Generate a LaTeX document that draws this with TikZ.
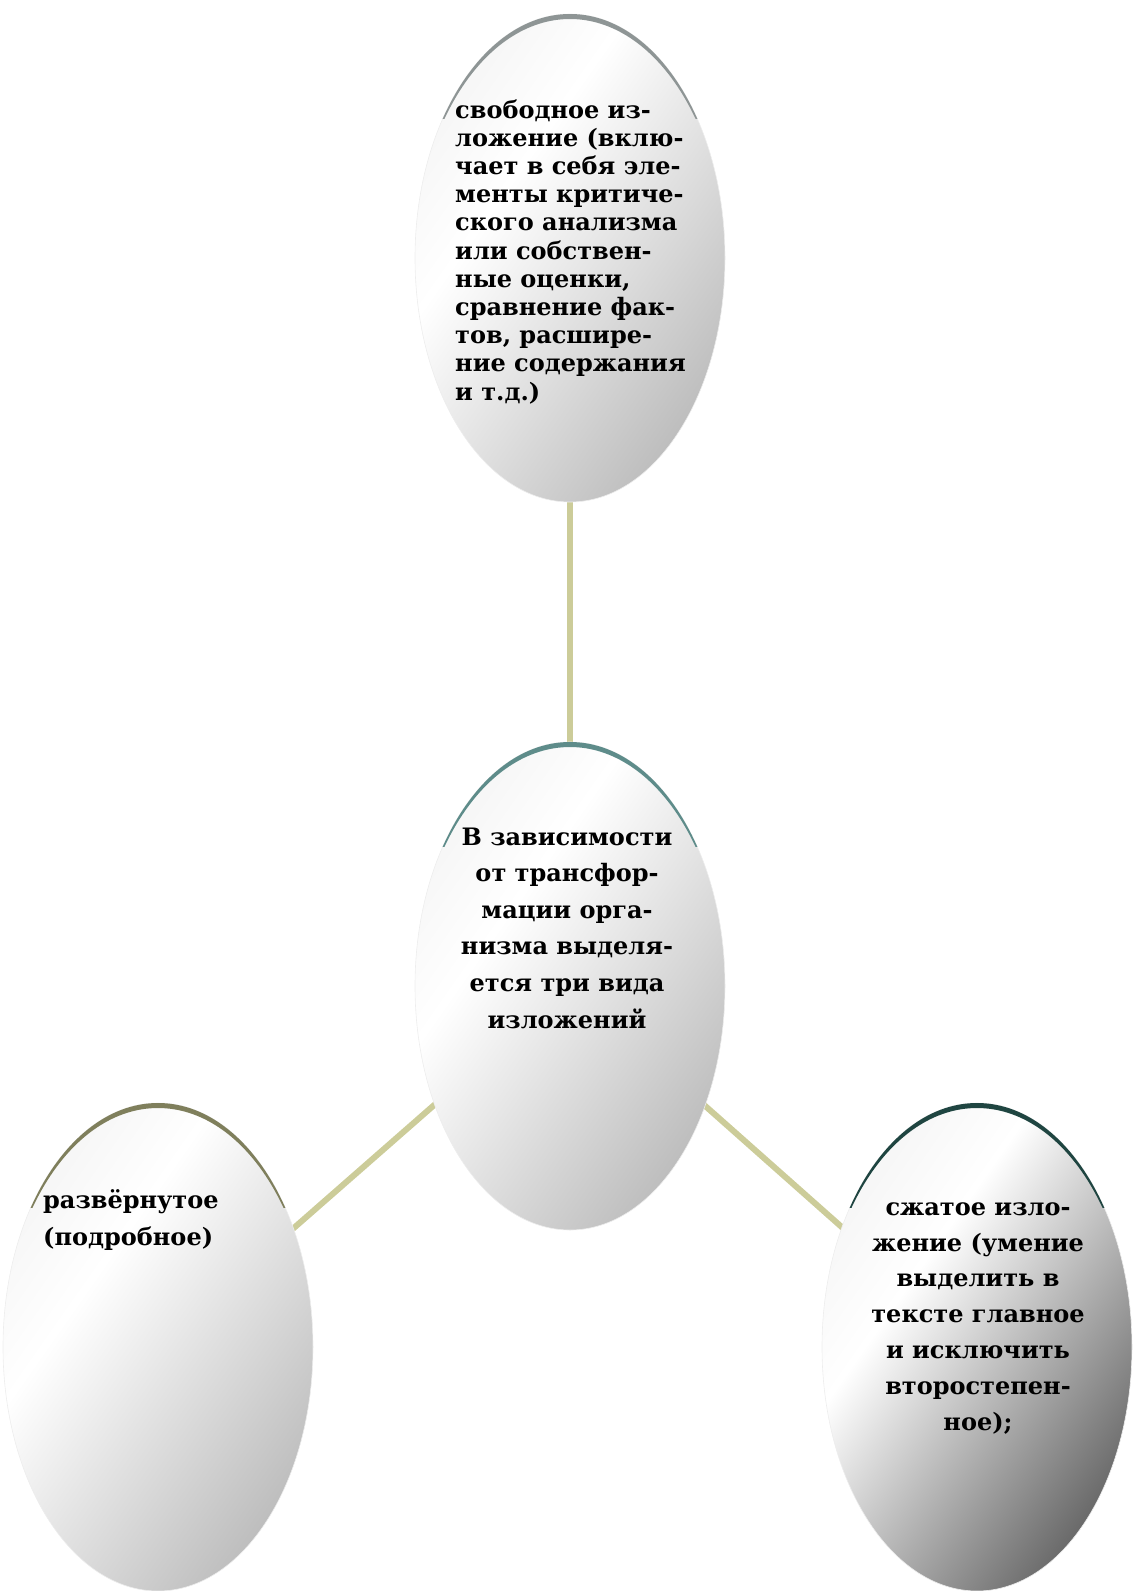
\documentclass[tikz,border=0pt]{standalone}
\usepackage{fontspec}
\setmainfont{DejaVu Serif}
\usetikzlibrary{shapes.geometric}
\pgfdeclarehorizontalshading{ovalshade}{100bp}{color(0bp)=(black!5); color(27bp)=(black!3); color(38bp)=(white); color(78bp)=(black!28); color(100bp)=(black!28)}
\pgfdeclarehorizontalshading{ovalshadedark}{100bp}{color(0bp)=(black!5); color(27bp)=(black!3); color(38bp)=(white); color(78bp)=(black!64); color(100bp)=(black!64)}
\definecolor{linkc}{HTML}{CCCC99}
\definecolor{arcTop}{HTML}{8E9595}
\definecolor{arcMid}{HTML}{5E8C8A}
\definecolor{arcLeft}{HTML}{7F7F5C}
\definecolor{arcRight}{HTML}{1F4541}
\tikzset{
  oval/.style={ellipse, minimum width=310pt, minimum height=488pt, inner sep=0pt, shade, shading=ovalshade, shading angle=-35, draw=black!7, line width=0.6pt},
  ovaldark/.style={oval, shading=ovalshadedark},
  link/.style={draw=linkc, line width=6pt},
  label/.style={inner sep=0pt, font=\bfseries}
}
\newcommand{\toparc}[3]{%
  \begin{scope}
    \clip (#1-200,#2-260) rectangle (#1+200,#2-140);
    \fill[#3, even odd rule] (#1,#2) ellipse (155 and 244) (#1,#2+5) ellipse (155.6 and 244);
  \end{scope}}
\begin{document}
\begin{tikzpicture}[x=1pt,y=-1pt]
\useasboundingbox (0,0) rectangle (1134,1591);
\coordinate (ctop) at (570,258);
\coordinate (cmid) at (570,986);
\coordinate (cleft) at (158,1347);
\coordinate (cright) at (977,1347);
% connectors (drawn first, behind ovals)
\draw[link] (ctop) -- (cmid);
\draw[link] (cmid) -- (cleft);
\draw[link] (cmid) -- (cright);
% ovals
\node[oval] (top) at (ctop) {};
\node[oval] (mid) at (cmid) {};
\node[oval] (left) at (cleft) {};
\node[ovaldark] (right) at (cright) {};
\toparc{570}{258}{arcTop}
\toparc{570}{986}{arcMid}
\toparc{158}{1347}{arcLeft}
\toparc{977}{1347}{arcRight}
% texts (base anchor = baseline of the last line)
\node[label, anchor=base west, align=left, font=\bfseries\fontsize{24}{28.2}\selectfont] (ttop) at (455,400)
  {свободное из-\\ложение (вклю-\\чает в себя эле-\\менты критиче-\\ского анализма\\или собствен-\\ные оценки,\\сравнение фак-\\тов, расшире-\\ние содержания\\и т.д.)};
\node[label, anchor=base, align=center, font=\bfseries\fontsize{24}{36.6}\selectfont] (tmid) at (567,1028)
  {В зависимости\\от трансфор-\\мации орга-\\низма выделя-\\ется три вида\\изложений};
\node[label, anchor=base west, align=left, font=\bfseries\fontsize{24}{37}\selectfont] (tleft) at (43,1245)
  {развёрнутое\\(подробное)};
\node[label, anchor=base, align=center, font=\bfseries\fontsize{24}{35.8}\selectfont] (tright) at (978,1430)
  {сжатое изло-\\жение (умение\\выделить в\\тексте главное\\и исключить\\второстепен-\\ное);};
\end{tikzpicture}
\end{document}
